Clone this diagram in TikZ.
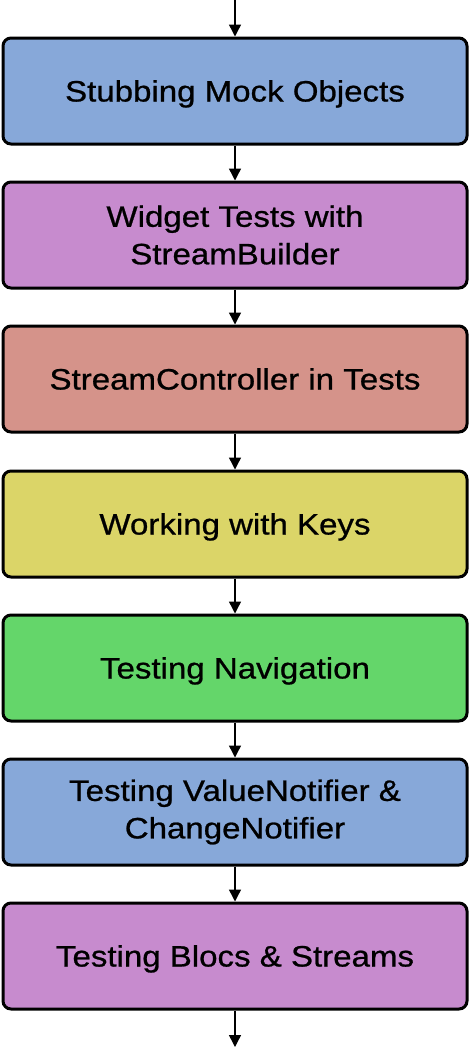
\documentclass[tikz,border=0pt]{standalone}
\usepackage{fontspec}
\setmainfont{Liberation Sans}[FakeStretch=1.12,FakeBold=0.8]
\usetikzlibrary{arrows.meta}
\definecolor{boxblue}{HTML}{87A8D9}
\definecolor{boxpurple}{HTML}{C78BCE}
\definecolor{boxred}{HTML}{D5938A}
\definecolor{boxyellow}{HTML}{DBD568}
\definecolor{boxgreen}{HTML}{64D66A}
\tikzset{
  stage/.style={draw, line width=3pt, rounded corners=8pt, minimum width=464pt, minimum height=106pt,
    align=center, font=\fontsize{29.5}{37.5}\selectfont, inner sep=0pt},
  oneline/.style={text height=21pt, text depth=0pt},
  flow/.style={line width=1.4pt, -{Triangle[width=12pt,length=12pt]}}
}
\begin{document}
\begin{tikzpicture}[x=1pt,y=-1pt]
    \useasboundingbox (0,0) rectangle (470,1050);
    \coordinate (top) at (235,0);
    \coordinate (bottom) at (235,1047);

    \node[stage, oneline, fill=boxblue]   (mock)   at (235,91)  {Stubbing Mock Objects};
    \node[stage, fill=boxpurple]          (widget) at (235,235) {Widget Tests with\\StreamBuilder};
    \node[stage, oneline, fill=boxred]    (ctrl)   at (235,379) {StreamController in Tests};
    \node[stage, oneline, fill=boxyellow] (keys)   at (235,524) {Working with Keys};
    \node[stage, oneline, fill=boxgreen]  (nav)    at (235,668) {Testing Navigation};
    \node[stage, fill=boxblue]            (notify) at (235,812) {Testing ValueNotifier \&\\ChangeNotifier};
    \node[stage, oneline, fill=boxpurple] (blocs)  at (235,956) {Testing Blocs \& Streams};

    \draw[flow] (top) -- (mock);
    \draw[flow] (mock) -- (widget);
    \draw[flow] (widget) -- (ctrl);
    \draw[flow] (ctrl) -- (keys);
    \draw[flow] (keys) -- (nav);
    \draw[flow] (nav) -- (notify);
    \draw[flow] (notify) -- (blocs);
    \draw[flow] (blocs) -- (bottom);
\end{tikzpicture}
\end{document}
